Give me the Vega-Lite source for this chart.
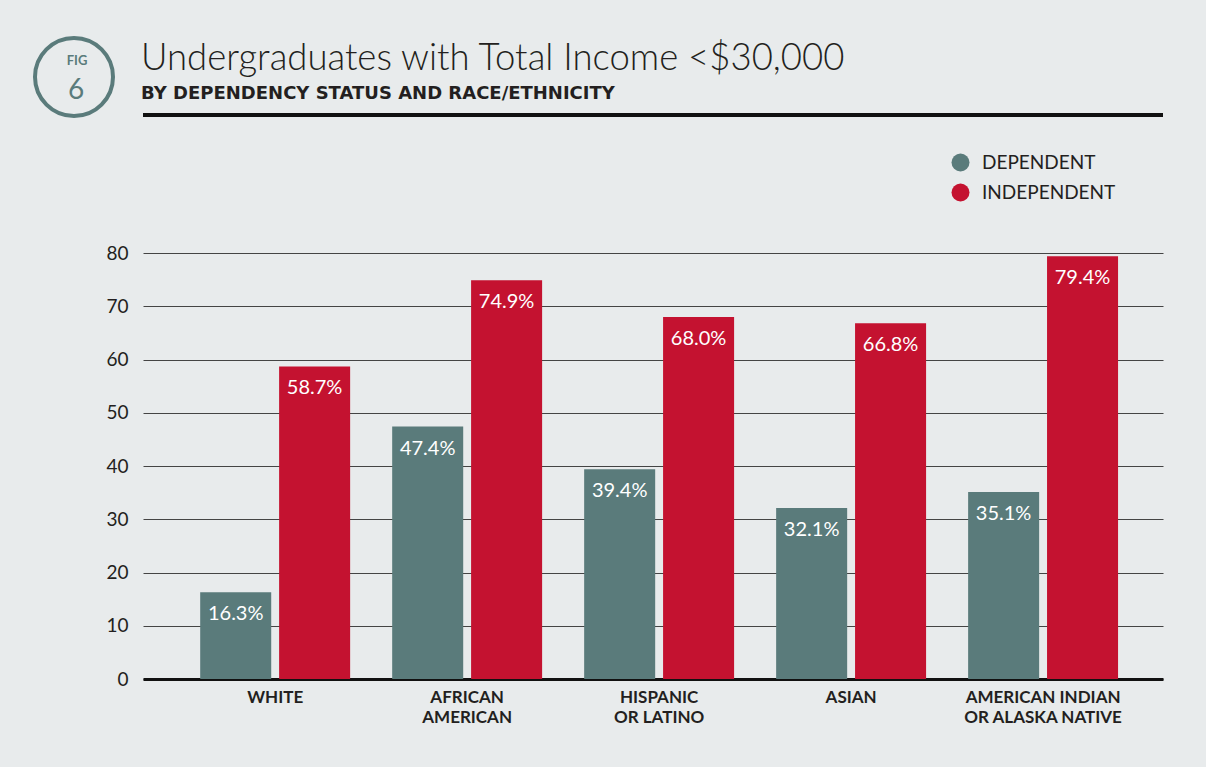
{
  "$schema": "https://vega.github.io/schema/vega-lite/v6.json",
  "width": 1020,
  "height": 426,
  "autosize": "none",
  "padding": {"left": 143, "top": 253, "right": 43, "bottom": 88},
  "background": "#e8ebec",
  "config": {"view": {"stroke": null}, "font": "Lato"},
  "title": {
    "text": "Undergraduates with Total Income <$30,000",
    "subtitle": "BY DEPENDENCY STATUS AND RACE/ETHNICITY",
    "anchor": "start",
    "frame": "group",
    "offset": -48,
    "dx": -2,
    "font": "Lato",
    "fontSize": 36.5,
    "fontWeight": 300,
    "color": "#231f20",
    "subtitleFont": "DejaVu Sans",
    "subtitleFontSize": 18,
    "subtitleFontWeight": "bold",
    "subtitleColor": "#231f20",
    "subtitlePadding": 8
  },
  "data": {
    "values": [
      {"race": "White", "status": "Dependent", "value": 16.3},
      {"race": "White", "status": "Independent", "value": 58.7},
      {"race": "African American", "status": "Dependent", "value": 47.4},
      {"race": "African American", "status": "Independent", "value": 74.9},
      {"race": "Hispanic or Latino", "status": "Dependent", "value": 39.4},
      {"race": "Hispanic or Latino", "status": "Independent", "value": 68.0},
      {"race": "Asian", "status": "Dependent", "value": 32.1},
      {"race": "Asian", "status": "Independent", "value": 66.8},
      {"race": "American Indian or Alaska Native", "status": "Dependent", "value": 35.1},
      {"race": "American Indian or Alaska Native", "status": "Independent", "value": 79.4}
    ]
  },
  "encoding": {
    "x": {
      "field": "race",
      "type": "nominal",
      "sort": null,
      "scale": {"paddingInner": 0.219, "paddingOuter": 0.266, "align": 0.56},
      "axis": {
        "title": null,
        "labelAngle": 0,
        "labelFont": "Lato",
        "labelFontSize": 17,
        "labelFontWeight": "bold",
        "labelColor": "#231f20",
        "labelLineHeight": 20,
        "labelPadding": 10,
        "ticks": false,
        "domainColor": "#111111",
        "domainWidth": 3,
        "labelExpr": "indexof(datum.label, ' or ') > 0 ? [upper(slice(datum.label, 0, indexof(datum.label, ' or '))), upper(slice(datum.label, indexof(datum.label, ' or ') + 1))] : split(upper(datum.label), ' ')"
      }
    },
    "xOffset": {
      "field": "status",
      "type": "nominal",
      "scale": {"paddingInner": 0.1, "paddingOuter": 0}
    },
    "y": {
      "field": "value",
      "type": "quantitative",
      "scale": {"domain": [0, 80], "nice": false},
      "axis": {
        "title": null,
        "values": [0, 10, 20, 30, 40, 50, 60, 70, 80],
        "domain": false,
        "ticks": false,
        "labelPadding": 15,
        "labelFont": "Lato",
        "labelFontSize": 19,
        "labelColor": "#231f20",
        "gridColor": "#444444",
        "gridWidth": 1,
        "gridOpacity": 1
      }
    }
  },
  "layer": [
    {
      "mark": {"type": "bar"},
      "encoding": {
        "color": {
          "field": "status",
          "type": "nominal",
          "scale": {"domain": ["Dependent", "Independent"], "range": ["#5a7b7b", "#c41230"]},
          "legend": {
            "title": null,
            "orient": "none",
            "legendX": 808,
            "legendY": -100,
            "padding": 0,
            "symbolType": "circle",
            "symbolSize": 324,
            "symbolStrokeWidth": 0,
            "labelFont": "Lato",
            "labelFontSize": 19,
            "labelColor": "#231f20",
            "labelOffset": 12,
            "rowPadding": 10,
            "labelExpr": "upper(datum.label)"
          }
        }
      }
    },
    {
      "transform": [{"calculate": "format(datum.value, '.1f') + '%'", "as": "label"}],
      "mark": {"type": "text", "color": "white", "dy": 22, "fontSize": 20, "font": "Lato"},
      "encoding": {"text": {"field": "label"}}
    },
    {
      "mark": {"type": "rule", "color": "#111111", "strokeWidth": 3},
      "encoding": {"y": {"datum": 105.9}, "x": null, "xOffset": null}
    },
    {
      "data": {"values": [{"fig": "6"}]},
      "mark": {"type": "point", "opacity": 0, "color": "#5a7b7b", "filled": false},
      "encoding": {
        "x": null,
        "xOffset": null,
        "y": null,
        "shape": {
          "field": "fig",
          "type": "nominal",
          "scale": {"range": ["circle"]},
          "legend": {
            "title": "FIG",
            "orient": "none",
            "legendX": -110,
            "legendY": -198,
            "padding": 0,
            "titleFont": "Lato",
            "titleFontSize": 13,
            "titleFontWeight": "bold",
            "titleColor": "#5a7b7b",
            "titleAnchor": "middle",
            "titleAlign": "center",
            "titlePadding": -32,
            "symbolType": "circle",
            "symbolSize": 6084,
            "symbolFillColor": "transparent",
            "symbolStrokeColor": "#5a7b7b",
            "symbolStrokeWidth": 4,
            "symbolOpacity": 1,
            "labelFont": "Lato",
            "labelFontSize": 28,
            "labelColor": "#5a7b7b",
            "labelAlign": "center",
            "labelBaseline": "top",
            "labelOffset": -39
          }
        }
      }
    }
  ]
}
